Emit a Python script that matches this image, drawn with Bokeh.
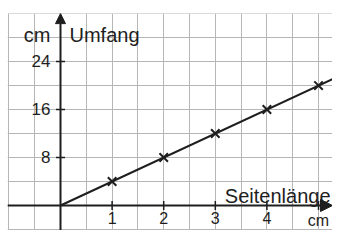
import numpy as np
from bokeh.plotting import figure
from bokeh.models import Range1d, SingleIntervalTicker, Grid, Arrow, NormalHead
from bokeh.core.properties import value
from bokeh.embed import file_html
from bokeh.resources import INLINE

# data
seitenlaenge = [1, 2, 3, 4, 5]
umfang = [4, 8, 12, 16, 20]
line_x = [0, 5.5]
line_y = [0, 22]
x_ticks = [1, 2, 3, 4, 5]
x_tick_labels = ["1", "2", "3", "4", "cm"]
y_ticks = [8, 16, 24]
y_tick_labels = ["8", "16", "24"]
x_title = "Seitenlänge"
y_title = "Umfang"
y_unit = "cm"

INK = "#1e1e1e"
FONT = value("Liberation Sans")

x0, x1 = -1.027, 5.271
y0, y1 = -4.167, 32.02
y_top = 32

p = figure(width=332, height=230, x_range=Range1d(x0, x1), y_range=Range1d(y0, y1),
           x_axis_type=None, y_axis_type=None,
           output_backend="svg", toolbar_location=None,
           min_border_top=13, min_border_left=7, min_border_right=0, min_border_bottom=0)
p.outline_line_color = None
p.background_fill_color = "white"

p.add_layout(Grid(dimension=0, ticker=SingleIntervalTicker(interval=0.5),
                  grid_line_color="#b6b6b6", grid_line_width=1))
p.add_layout(Grid(dimension=1, ticker=SingleIntervalTicker(interval=4),
                  grid_line_color="#b6b6b6", grid_line_width=1))

# axes with arrows
p.add_layout(Arrow(x_start=x0, y_start=0, x_end=x1, y_end=0, line_width=2, line_color=INK,
                   end=NormalHead(size=12, fill_color=INK, line_color=INK, line_width=1)))
p.add_layout(Arrow(x_start=0, y_start=y0, x_end=0, y_end=y_top, line_width=2, line_color=INK,
                   end=NormalHead(size=10, fill_color=INK, line_color=INK, line_width=1)))

# tick marks
p.scatter(x=x_ticks, y=[0] * len(x_ticks), marker="dash", angle=np.pi / 2, size=9,
          line_color=INK, line_width=1.5)
p.scatter(x=[0] * len(y_ticks), y=y_ticks, marker="dash", size=9,
          line_color=INK, line_width=1.5)

# tick labels
p.text(x=x_ticks, y=[0] * len(x_ticks), text=x_tick_labels, text_align="center",
       text_baseline="top", y_offset=6, text_font=FONT, text_font_size="16px", text_color=INK)
p.text(x=[0] * len(y_ticks), y=y_ticks, text=y_tick_labels, text_align="right",
       text_baseline="middle", x_offset=-10, y_offset=-1, text_font=FONT, text_font_size="17px",
       text_color=INK)

# titles
p.text(x=[x1], y=[0], text=[x_title], text_align="right", text_baseline="alphabetic",
       x_offset=-2, y_offset=-10, text_font=FONT, text_font_size="20px", text_color=INK)
p.text(x=[0], y=[y_top], text=[y_title], text_align="left", text_baseline="alphabetic",
       x_offset=9, y_offset=21, text_font=FONT, text_font_size="20px", text_color=INK)
p.text(x=[0], y=[y_top], text=[y_unit], text_align="right", text_baseline="alphabetic",
       x_offset=-10, y_offset=21, text_font=FONT, text_font_size="20px", text_color=INK)

# data line and points
p.line(x=line_x, y=line_y, line_width=2, line_color=INK)
p.scatter(x=seitenlaenge, y=umfang, marker="x", size=12, line_width=2, line_color=INK)

open("out.html", "w").write(file_html(p, INLINE))
